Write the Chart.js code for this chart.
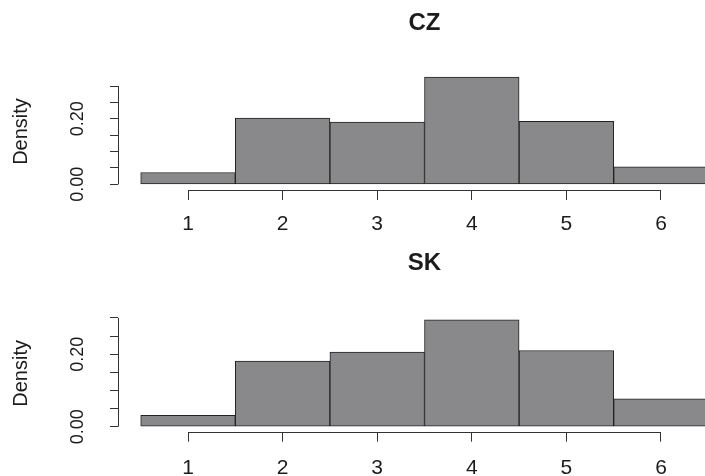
<!DOCTYPE html>
<html>
<head>
<meta charset="utf-8">
<script src="https://cdn.jsdelivr.net/npm/chart.js@4.4.1/dist/chart.umd.min.js"></script>
<style>
  html, body { margin: 0; padding: 0; background: #fff; overflow: hidden; }
  #wrap { width: 705px; height: 476px; overflow: hidden; }
  canvas { display: block; }
</style>
</head>
<body>
<div id="wrap">
  <canvas id="czChart" width="760" height="238"></canvas>
  <canvas id="skChart" width="760" height="238"></canvas>
</div>
<script>
// densities (bin width 1)
const categories = [1, 2, 3, 4, 5, 6];
const czDensity = [0.036, 0.202, 0.190, 0.327, 0.192, 0.053];
const skDensity = [0.031, 0.181, 0.206, 0.295, 0.210, 0.077];
const xTickLabels = ['1', '2', '3', '4', '5', '6'];
const yTicks = [0, 0.05, 0.10, 0.15, 0.20, 0.25, 0.30];
const yTickLabels = ['0.00', '', '', '', '0.20', '', ''];

const FONT = '"Liberation Sans", Arial, Helvetica, sans-serif';
const INK = '#1c1c1c';
const AXIS = '#333';

// R draws the axis line only between first and last tick
const rAxisLines = {
    id: 'rAxisLines',
    afterDraw(chart) {
        const { ctx, chartArea, scales } = chart;
        const bx = Math.round(chartArea.bottom) + 0.5;
        const lx = Math.round(chartArea.left) + 0.5;
        ctx.save();
        ctx.strokeStyle = AXIS;
        ctx.lineWidth = 1;
        ctx.beginPath();
        ctx.moveTo(scales.x.getPixelForValue(categories[0]), bx);
        ctx.lineTo(scales.x.getPixelForValue(categories[categories.length - 1]), bx);
        ctx.moveTo(lx, scales.y.getPixelForValue(yTicks[0]));
        ctx.lineTo(lx, scales.y.getPixelForValue(yTicks[yTicks.length - 1]));
        ctx.stroke();
        ctx.restore();
    }
};

function histogram(canvasId, title, values, box) {
    const ctx = document.getElementById(canvasId).getContext('2d');
    return new Chart(ctx, {
        type: 'bar',
        data: {
            datasets: [{
                data: categories.map((c, i) => ({ x: c, y: values[i] })),
                backgroundColor: '#89898b',
                borderColor: '#222',
                borderWidth: 1,
                borderSkipped: false,
                barPercentage: 1,
                categoryPercentage: 1
            }]
        },
        options: {
            responsive: false,
            animation: false,
            layout: { padding: { top: 0, left: 0, right: 29, bottom: 0 } },
            plugins: {
                legend: { display: false },
                tooltip: { enabled: false },
                title: {
                    display: true,
                    text: title,
                    fullSize: false,
                    color: INK,
                    font: { family: FONT, size: 24, weight: 'bold' },
                    padding: { top: box.titleTop, bottom: box.titleBottom }
                }
            },
            scales: {
                x: {
                    type: 'linear',
                    min: 0.26,
                    max: 6.74,
                    offset: false,
                    afterBuildTicks: s => { s.ticks = categories.map(v => ({ value: v })); },
                    afterFit: s => { s.height = box.xHeight; },
                    grid: { offset: false, drawOnChartArea: false, drawTicks: true, tickLength: 10, color: AXIS },
                    border: { display: false },
                    ticks: {
                        autoSkip: false,
                        maxRotation: 0,
                        padding: box.xPad,
                        color: INK,
                        font: { family: FONT, size: 21 },
                        callback: (v, i) => xTickLabels[i]
                    }
                },
                y: {
                    min: box.yMin,
                    max: box.yMax,
                    afterBuildTicks: s => { s.ticks = yTicks.map(v => ({ value: v })); },
                    afterFit: s => { s.width = 118; },
                    grid: { drawOnChartArea: false, drawTicks: true, tickLength: 8, color: AXIS },
                    border: { display: false },
                    title: {
                        display: true,
                        text: 'Density',
                        color: INK,
                        font: { family: FONT, size: 20 },
                        padding: { top: 9, bottom: 0 }
                    },
                    ticks: {
                        autoSkip: false,
                        minRotation: 90,
                        maxRotation: 90,
                        crossAlign: 'center',
                        padding: 14,
                        color: INK,
                        font: { family: FONT, size: 18 },
                        callback: (v, i) => yTickLabels[i]
                    }
                }
            }
        },
        plugins: [rAxisLines]
    });
}

histogram('czChart', 'CZ', czDensity,
    { titleTop: 8.6, titleBottom: 35.6, xHeight: 48, xPad: 11.4, yMin: -0.0174, yMax: 0.3397 });
histogram('skChart', 'SK', skDensity,
    { titleTop: 10.6, titleBottom: 37.6, xHeight: 44.3, xPad: 13.7, yMin: -0.0138, yMax: 0.308 });
</script>
</body>
</html>
